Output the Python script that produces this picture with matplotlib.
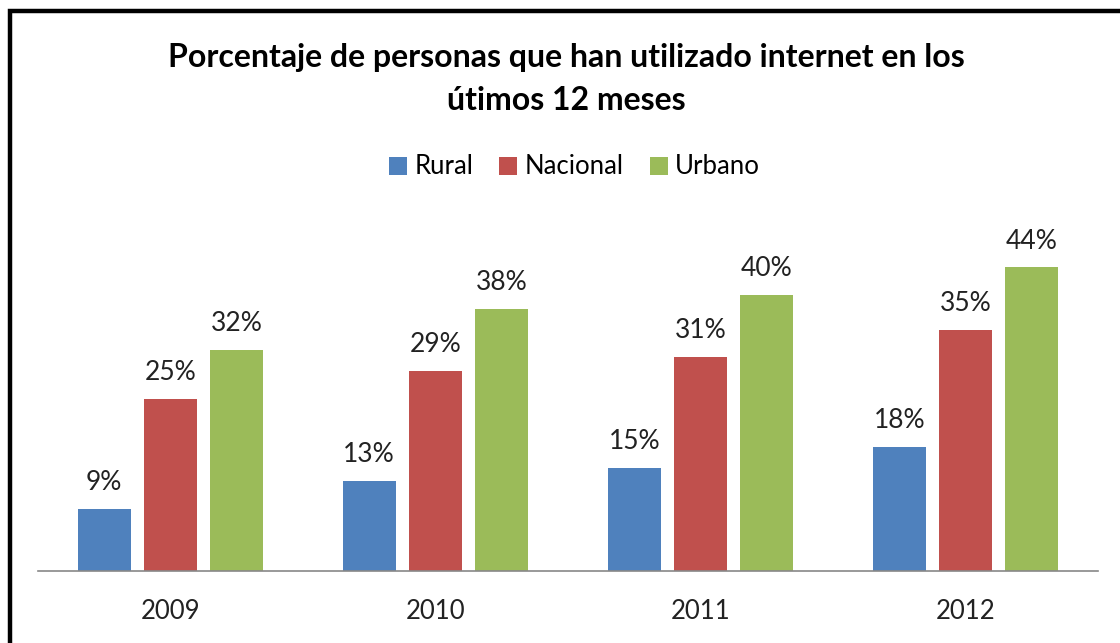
import matplotlib.pyplot as plt
import matplotlib.patches as mpatches
import numpy as np

years = ["2009", "2010", "2011", "2012"]
series = ["Rural", "Nacional", "Urbano"]
rural = [9, 13, 15, 18]
nacional = [25, 29, 31, 35]
urbano = [32, 38, 40, 44]
colors = ["#4F81BD", "#C0504D", "#9BBB59"]

plt.rcParams["font.family"] = ["Lato", "DejaVu Sans"]

fig = plt.figure(figsize=(11.2, 6.43), dpi=100)
ax = fig.add_axes([38 / 1120, 72 / 643, 1060 / 1120, 345 / 643])

x = np.arange(len(years))
width = 0.2
step = 0.25
for i, (name, vals, col) in enumerate(zip(series, [rural, nacional, urbano], colors)):
    pos = x + (i - 1) * step
    ax.bar(pos, vals, width, color=col, label=name)
    for p, v in zip(pos, vals):
        ax.text(p, v + 2.0, f"{v}%", ha="center", va="bottom",
                fontsize=19, color="#222222")

ax.set_xlim(-0.5, len(years) - 0.5)
ax.set_ylim(0, 50)
ax.set_xticks(x)
ax.set_xticklabels(years, fontsize=18.5, color="#222222")
ax.tick_params(axis="x", length=0, pad=20)
ax.set_yticks([])
for s in ("top", "right", "left"):
    ax.spines[s].set_visible(False)
ax.spines["bottom"].set_color("#888888")
ax.spines["bottom"].set_linewidth(1.2)

fig.text(0.506, 1 - 57 / 643, "Porcentaje de personas que han utilizado internet en los",
         ha="center", va="center", fontsize=23, fontweight="bold")
fig.text(0.506, 1 - 100 / 643, "útimos 12 meses",
         ha="center", va="center", fontsize=23, fontweight="bold")

fig.legend(loc="center", bbox_to_anchor=(0.513, 1 - 167 / 643), ncol=3,
           frameon=False, fontsize=18.5, handlelength=0.7, handleheight=0.7,
           handletextpad=0.3, columnspacing=1.0)

# chart frame (only left and top edges are visible in the crop)
fig.patches.append(mpatches.Rectangle((10 / 1120, -0.1), 1.2, 1 - 11 / 643 + 0.1,
                                      transform=fig.transFigure, fill=False,
                                      edgecolor="black", linewidth=3.2))

fig.savefig("out.png", dpi=100)
